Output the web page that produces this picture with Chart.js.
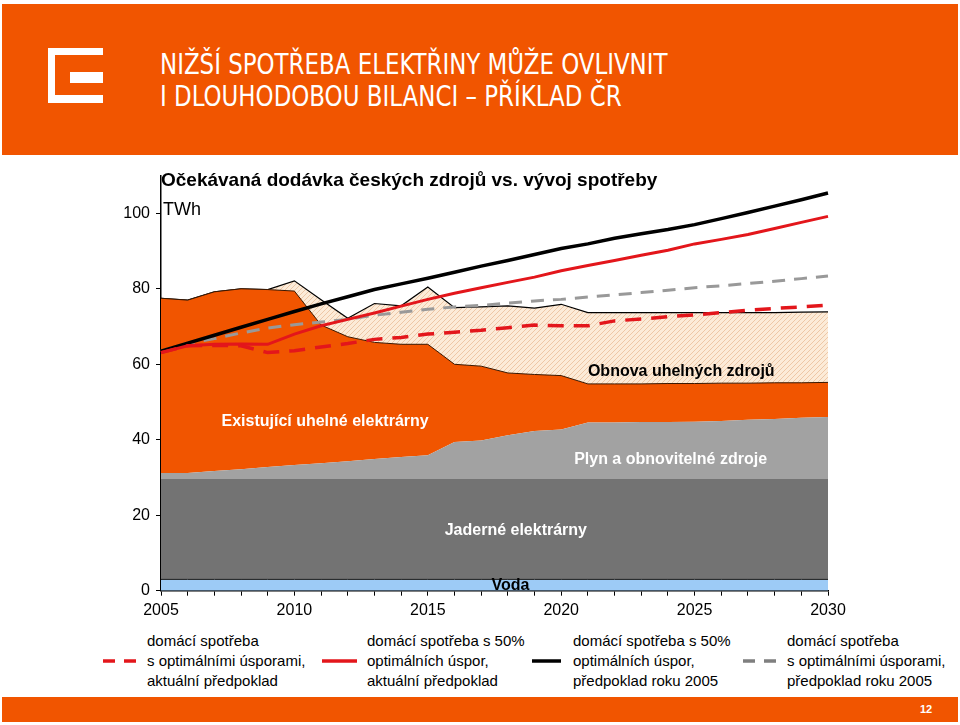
<!DOCTYPE html>
<html><head><meta charset="utf-8">
<script src="https://cdn.jsdelivr.net/npm/chart.js@4.4.1/dist/chart.umd.min.js"></script>
<style>
html,body{margin:0;padding:0;background:#fff;}
body{width:960px;height:725px;position:relative;overflow:hidden;font-family:"Liberation Sans",Arial,Helvetica,sans-serif;color:#000;}
#hdr{position:absolute;left:2px;top:4px;width:956px;height:151px;background:#F15500;}
.w{position:absolute;background:#fff;}
.o{position:absolute;background:#F15500;}
.htitle{position:absolute;left:160px;color:#fff;font-family:"Liberation Sans Narrow","DejaVu Sans Condensed","Arial Narrow",sans-serif;font-stretch:condensed;font-size:28px;line-height:32px;white-space:nowrap;transform:scaleX(0.91);transform-origin:0 50%;}
#ftr{position:absolute;left:2px;top:697px;width:956px;height:25px;background:#F15500;}
#pg{position:absolute;left:920px;top:703px;color:#fff;font-weight:bold;font-size:11px;}
#ctitle{position:absolute;left:161px;top:169px;font-weight:bold;font-size:19px;white-space:nowrap;}
#unit{position:absolute;left:163px;top:199px;font-size:18px;}
#c{position:absolute;left:0;top:160px;}
.lg{position:absolute;top:631px;font-size:15px;line-height:20px;white-space:nowrap;}
.ls{position:absolute;top:656px;}
</style></head>
<body>
<div id="hdr"></div>
<div class="w" style="left:48px;top:48px;width:55px;height:55px;"></div>
<div class="o" style="left:55px;top:55px;width:48px;height:40px;"></div>
<div class="w" style="left:70px;top:72px;width:33px;height:11px;"></div>
<div class="htitle" style="top:49px;">NIŽŠÍ SPOTŘEBA ELEKTŘINY MŮŽE OVLIVNIT</div>
<div class="htitle" style="top:81px;">I DLOUHODOBOU BILANCI – PŘÍKLAD ČR</div>

<canvas id="c" width="960" height="470"></canvas>
<div id="ctitle">Očekávaná dodávka českých zdrojů vs. vývoj spotřeby</div>
<div id="unit">TWh</div>

<svg class="ls" style="left:101px" width="40" height="10"><line x1="2" y1="5" x2="38" y2="5" stroke="#E3161B" stroke-width="3.5" stroke-dasharray="12,9"/></svg>
<div class="lg" style="left:147px">domácí spotřeba<br>s optimálními úsporami,<br>aktuální předpoklad</div>
<svg class="ls" style="left:320px" width="40" height="10"><line x1="2" y1="5" x2="37" y2="5" stroke="#E3161B" stroke-width="3.5"/></svg>
<div class="lg" style="left:367px">domácí spotřeba s 50%<br>optimálních úspor,<br>aktuální předpoklad</div>
<svg class="ls" style="left:530px" width="40" height="10"><line x1="2" y1="5" x2="31" y2="5" stroke="#000" stroke-width="3.5"/></svg>
<div class="lg" style="left:573px">domácí spotřeba s 50%<br>optimálních úspor,<br>předpoklad roku 2005</div>
<svg class="ls" style="left:741px" width="40" height="10"><line x1="2" y1="5" x2="36" y2="5" stroke="#7F7F7F" stroke-width="3.5" stroke-dasharray="12,9"/></svg>
<div class="lg" style="left:787px">domácí spotřeba<br>s optimálními úsporami,<br>předpoklad roku 2005</div>

<div id="ftr"></div>
<div id="pg">12</div>

<script>
// ---- data (TWh) ----
const years = [2005,2006,2007,2008,2009,2010,2011,2012,2013,2014,2015,2016,2017,2018,2019,2020,2021,2022,2023,2024,2025,2026,2027,2028,2029,2030];
const xTickLabels = ['2005','2010','2015','2020','2025','2030'];
const yTicks = [0,20,40,60,80,100];

// stacked supply
const voda    = [3.0,3.0,3.0,3.0,3.0,3.0,3.0,3.0,3.0,3.0,3.0,3.0,3.0,3.0,3.0,3.0,3.0,3.0,3.0,3.0,3.0,3.0,3.0,3.0,3.0,3.0];
const jaderne = [26.6,26.6,26.6,26.6,26.6,26.6,26.6,26.6,26.6,26.6,26.6,26.6,26.6,26.6,26.6,26.6,26.6,26.6,26.6,26.6,26.6,26.6,26.6,26.6,26.6,26.6];
const plyn    = [1.6,1.6,2.1,2.6,3.2,3.7,4.2,4.7,5.3,5.8,6.3,9.8,10.2,11.6,12.7,13.1,15.0,15.0,15.1,15.1,15.2,15.4,15.7,15.9,16.2,16.4];
const uhli    = [46.3,45.8,47.5,47.8,47.0,46.1,36.6,33.0,30.9,29.9,29.4,20.6,19.7,16.5,15.0,14.3,10.2,10.2,10.1,10.2,10.1,10.0,9.7,9.6,9.3,9.2];
const obnova  = [0,0,0,0,0,2.7,6.7,4.9,10.3,10.2,15.2,15.0,15.7,17.8,17.6,18.9,18.9,18.9,18.9,18.8,18.8,18.7,18.7,18.6,18.7,18.7];

// consumption lines
const spotrebaOptAkt  = [63.1,64.9,65.0,64.9,63.1,63.6,64.6,65.5,66.6,67.1,68.0,68.5,69.0,69.7,70.4,70.2,70.2,71.5,72.0,72.6,73.1,73.7,74.3,74.8,75.2,75.7];
const spotreba50Akt   = [63.1,64.9,65.3,65.4,65.3,68.0,70.2,71.9,73.6,75.4,77.2,78.8,80.3,81.7,83.1,84.8,86.2,87.5,88.9,90.2,91.9,93.1,94.4,96.0,97.6,99.2];
const spotreba50_2005 = [63.5,65.6,67.7,69.8,71.9,74.0,76.0,77.9,79.8,81.3,82.8,84.4,86.0,87.5,89.1,90.7,91.9,93.4,94.6,95.7,97.0,98.6,100.2,101.9,103.6,105.4];
const spotrebaOpt2005 = [63.5,65.6,66.8,68.3,69.6,70.5,71.2,71.9,73.0,73.8,74.6,75.2,75.6,76.2,76.8,77.2,77.8,78.4,79.0,79.6,80.3,80.8,81.4,82.0,82.7,83.4];

// area labels: [text, year, value, colour]
const areaLabels = [
  ['Obnova uhelných zdrojů', 2024.5, 58.0, '#000'],
  ['Existující uhelné elektrárny', 2011.15, 44.9, '#fff'],
  ['Plyn a obnovitelné zdroje', 2024.1, 34.7, '#fff'],
  ['Jaderné elektrárny', 2018.3, 15.8, '#fff'],
  ['Voda', 2018.1, 1.3, '#000']
];

// hatch pattern
const pc = document.createElement('canvas'); pc.width = 5; pc.height = 5;
const px = pc.getContext('2d');
px.fillStyle = '#FCEBD8'; px.fillRect(0,0,5,5);
px.strokeStyle = 'rgba(226,170,125,0.7)'; px.lineWidth = 0.8;
px.beginPath(); px.moveTo(-1,6); px.lineTo(6,-1); px.moveTo(-1,1); px.lineTo(1,-1); px.moveTo(4,6); px.lineTo(6,4); px.stroke();
const hatch = px.createPattern(pc,'repeat');

const FONT = '"Liberation Sans", Arial, Helvetica, sans-serif';

const labelPlugin = {
  id:'areaLabels',
  afterDraw(chart){
    const {ctx, scales:{x,y}} = chart;
    const x0 = x.getPixelForValue(0), step = x.getPixelForValue(1) - x0;
    ctx.save();
    ctx.font = 'bold 16px ' + FONT;
    ctx.textAlign = 'center'; ctx.textBaseline = 'middle';
    areaLabels.forEach(([t,yr,v,c]) => {
      ctx.fillStyle = c;
      ctx.fillText(t, x0 + (yr - years[0]) * step, y.getPixelForValue(v));
    });
    ctx.restore();
  }
};

const area = (data, fill, bg, bc, bw) => ({data, fill, backgroundColor:bg, borderColor:bc, borderWidth:bw, stack:'supply', order:2, pointRadius:0});
const line = (data, color, width, dash, st) => ({data, fill:false, borderColor:color, backgroundColor:color, borderWidth:width, borderDash:dash, stack:st, order:1, pointRadius:0, borderCapStyle:'butt'});

new Chart(document.getElementById('c'), {
  type:'line',
  data:{
    labels: years.map(String),
    datasets:[
      area(voda, 'origin', '#9DCBF6', '#1a1a1a', 1),
      area(jaderne, '-1', '#737373', 'rgba(0,0,0,0)', 0),
      area(plyn, '-1', '#A2A2A2', 'rgba(0,0,0,0)', 0),
      area(uhli, '-1', '#F15500', '#3a1800', 1),
      area(obnova, '-1', hatch, '#000', 1.2),
      line(spotrebaOptAkt, '#E3161B', 3.5, [16,10], 'l1'),
      line(spotreba50Akt, '#E3161B', 3, [], 'l2'),
      line(spotreba50_2005, '#000', 3.5, [], 'l3'),
      line(spotrebaOpt2005, '#999999', 3, [13,9], 'l4')
    ]
  },
  options:{
    responsive:false, animation:false, devicePixelRatio:1,
    layout:{padding:{top:13.8, right:132, left:0, bottom:0}},
    elements:{line:{tension:0}},
    plugins:{legend:{display:false}, tooltip:{enabled:false}, title:{display:false}},
    scales:{
      x:{
        type:'category', offset:false,
        grid:{drawOnChartArea:false, drawTicks:true, tickLength:5, color:'#000', lineWidth:1},
        border:{display:true, color:'#000', width:1.5},
        ticks:{autoSkip:false, maxRotation:0, color:'#000', padding:5, font:{size:16, family:FONT},
          callback:(v,i)=> xTickLabels.includes(String(years[i])) ? String(years[i]) : ''},
        afterFit:(s)=>{ s.height = 39.3; }
      },
      y:{
        stacked:true, min:0, max:110,
        afterBuildTicks:(s)=>{ s.ticks = yTicks.map(v=>({value:v})); },
        grid:{drawOnChartArea:false, drawTicks:true, tickLength:5, color:'#000', lineWidth:1},
        border:{display:true, color:'#000', width:1.5},
        ticks:{color:'#000', padding:6, font:{size:16, family:FONT}},
        afterFit:(s)=>{ s.width = 161; }
      }
    }
  },
  plugins:[labelPlugin]
});
</script>
</body></html>
